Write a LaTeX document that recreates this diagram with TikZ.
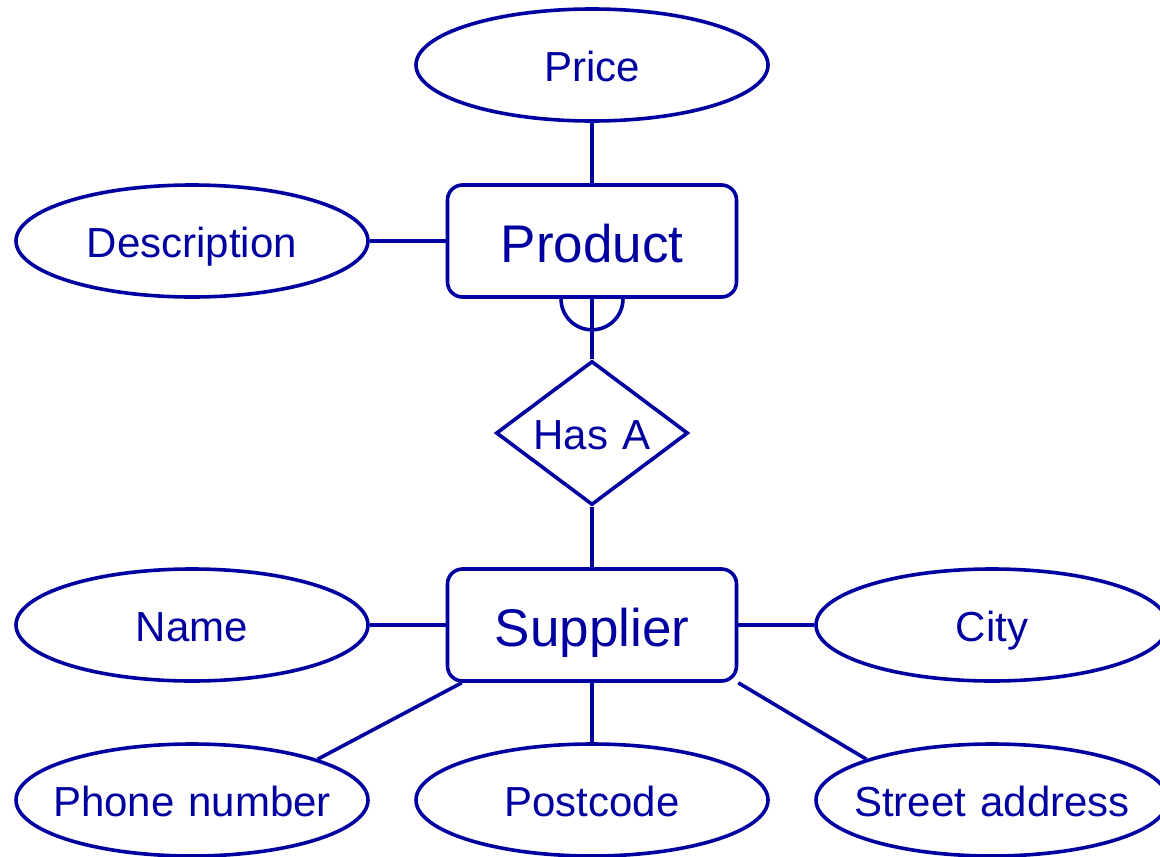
\documentclass[tikz,border=0pt]{standalone}
\usepackage{fontspec}
\setmainfont{Liberation Sans}
\usetikzlibrary{shapes.geometric,calc}
\definecolor{erblue}{RGB}{0,0,160}
\begin{document}
\begin{tikzpicture}[x=1pt,y=-1pt,
  link/.style={draw=erblue,line width=3.6pt},
  attr/.style={ellipse,draw=erblue,line width=3.6pt,minimum width=352pt,minimum height=112pt,inner sep=0pt,text=erblue,text height=35.8pt,text depth=2pt,text width=0pt,align=center,font=\fontsize{42}{46}\selectfont},
  entity/.style={rectangle,rounded corners=15pt,draw=erblue,line width=3.6pt,minimum width=289pt,minimum height=112pt,inner sep=0pt,text=erblue,text height=44.8pt,text depth=2.6pt,font=\fontsize{53}{57}\selectfont},
  rel/.style={diamond,draw=erblue,line width=3.6pt,minimum width=192pt,minimum height=144pt,inner sep=0pt,text=erblue,text height=35.8pt,text depth=2pt,text width=0pt,align=center,font=\fontsize{42}{46}\selectfont}]
\useasboundingbox (0,0) rectangle (1160,857);
\node[attr] (price) at (592,65) {\makebox[0pt]{Price}};
\node[entity] (prod) at (592,241) {Product};
\node[attr] (desc) at (192,241) {\makebox[0pt]{Description}};
\node[rel] (has) at (592,433) {\makebox[0pt]{Has A}};
\node[entity] (sup) at (592,625) {Supplier};
\node[attr] (name) at (192,625) {\makebox[0pt]{Name}};
\node[attr] (city) at (992,625) {\makebox[0pt]{City}};
\node[attr] (phone) at (192,800) {\makebox[0pt]{Phone number}};
\node[attr] (post) at (592,800) {\makebox[0pt]{Postcode}};
\node[attr] (street) at (992,800) {\makebox[0pt]{Street address}};
\draw[link] (price.south) -- (prod.north);
\draw[link] (desc.east) -- (prod.west);
\draw[link] (prod.south) -- (has.north);
\draw[link] ($(prod.south)+(-31,0)$) arc[start angle=180,end angle=360,radius=31pt];
\draw[link] (has.south) -- (sup.north);
\draw[link] (name.east) -- (sup.west);
\draw[link] (sup.east) -- (city.west);
\draw[link] (sup.south) -- (post.north);
\draw[link] ($(sup.south west)+(16,0)$) -- (phone.18);
\draw[link] (sup.south east) -- (street.162);
\end{tikzpicture}
\end{document}
